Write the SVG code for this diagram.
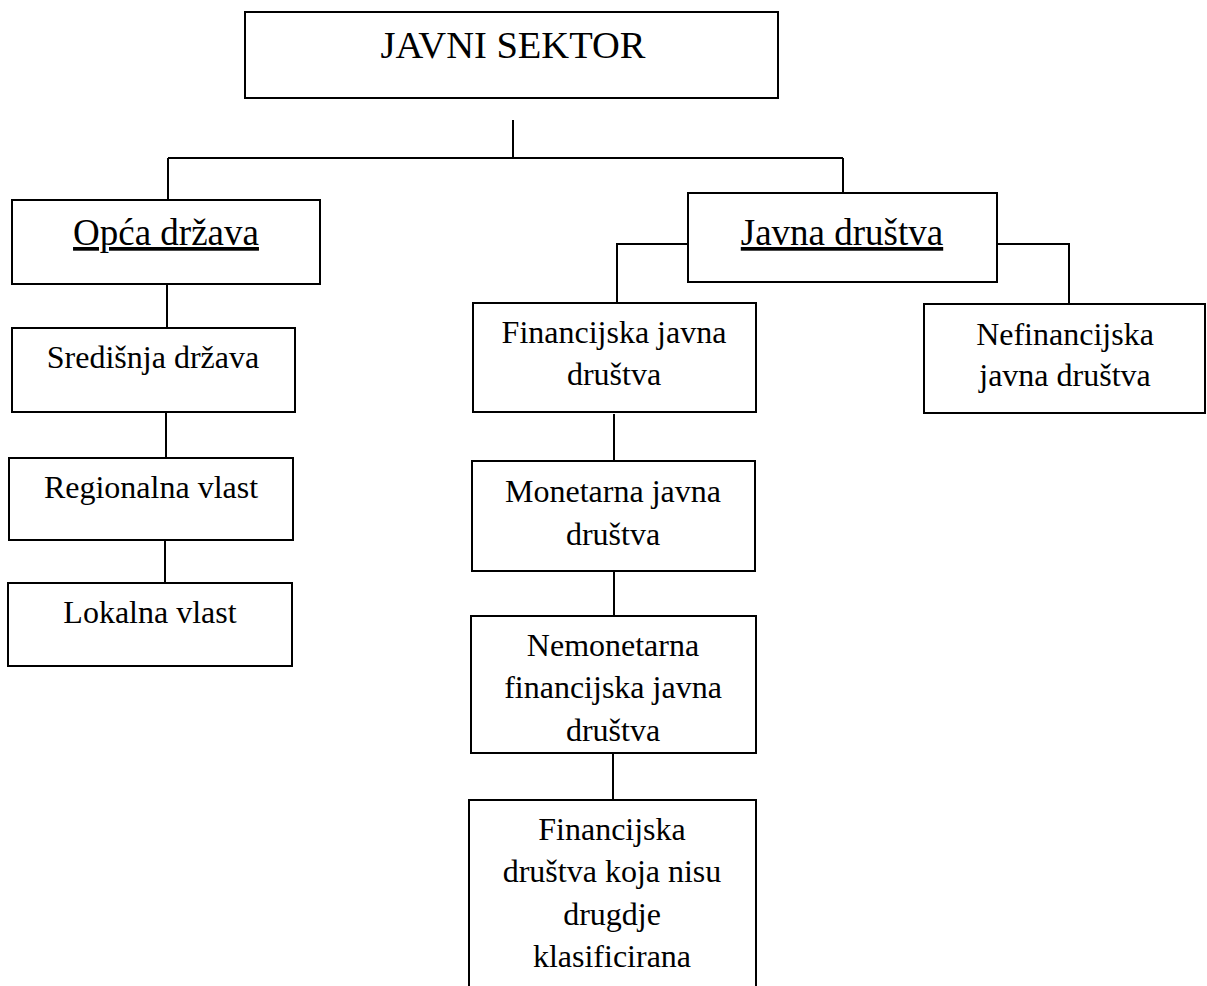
<svg xmlns="http://www.w3.org/2000/svg" width="1207" height="986" viewBox="0 0 1207 986">
<style>
.box{fill:#fff;stroke:#000;stroke-width:2}
.ln{fill:none;stroke:#000;stroke-width:2}
text{font-family:"Liberation Serif","Times New Roman",serif;fill:#000;text-anchor:middle}
.b{font-size:32px}
.h{font-size:37px}
.t{font-size:38.5px}
.u{text-decoration:underline}
</style>
<rect width="1207" height="986" fill="#fff"/>
<g id="connectors">
<path class="ln" d="M513 120V158M168 158H843M168 158V200M843 158V193"/>
<path class="ln" d="M167 284V328M166 412V458M165 540V583"/>
<path class="ln" d="M688 244H617V303M997 244H1069V304"/>
<path class="ln" d="M614 414V461M614 571V616M613 753V800"/>
</g>
<g id="javni-sektor">
<rect class="box" x="245" y="12" width="533" height="86"/>
<text class="t" x="513" y="58">JAVNI SEKTOR</text>
</g>
<g id="opca-drzava">
<rect class="box" x="12" y="200" width="308" height="84"/>
<text class="h u" x="166" y="245">Opća država</text>
</g>
<g id="sredisnja-drzava">
<rect class="box" x="12" y="328" width="283" height="84"/>
<text class="b" x="153" y="368">Središnja država</text>
</g>
<g id="regionalna-vlast">
<rect class="box" x="9" y="458" width="284" height="82"/>
<text class="b" x="151" y="498">Regionalna vlast</text>
</g>
<g id="lokalna-vlast">
<rect class="box" x="8" y="583" width="284" height="83"/>
<text class="b" x="150" y="623">Lokalna vlast</text>
</g>
<g id="javna-drustva">
<rect class="box" x="688" y="193" width="309" height="89"/>
<text class="h u" x="842" y="245">Javna društva</text>
</g>
<g id="nefinancijska">
<rect class="box" x="924" y="304" width="281" height="109"/>
<text class="b" x="1065" y="345">Nefinancijska</text>
<text class="b" x="1065" y="386">javna društva</text>
</g>
<g id="financijska">
<rect class="box" x="473" y="303" width="283" height="109"/>
<text class="b" x="614" y="343">Financijska javna</text>
<text class="b" x="614" y="385">društva</text>
</g>
<g id="monetarna">
<rect class="box" x="472" y="461" width="283" height="110"/>
<text class="b" x="613" y="502">Monetarna javna</text>
<text class="b" x="613" y="545">društva</text>
</g>
<g id="nemonetarna">
<rect class="box" x="471" y="616" width="285" height="137"/>
<text class="b" x="613" y="656">Nemonetarna</text>
<text class="b" x="613" y="698">financijska javna</text>
<text class="b" x="613" y="741">društva</text>
</g>
<g id="ostala">
<rect class="box" x="469" y="800" width="287" height="200"/>
<text class="b" x="612" y="840">Financijska</text>
<text class="b" x="612" y="882">društva koja nisu</text>
<text class="b" x="612" y="925">drugdje</text>
<text class="b" x="612" y="967">klasificirana</text>
</g>
</svg>
